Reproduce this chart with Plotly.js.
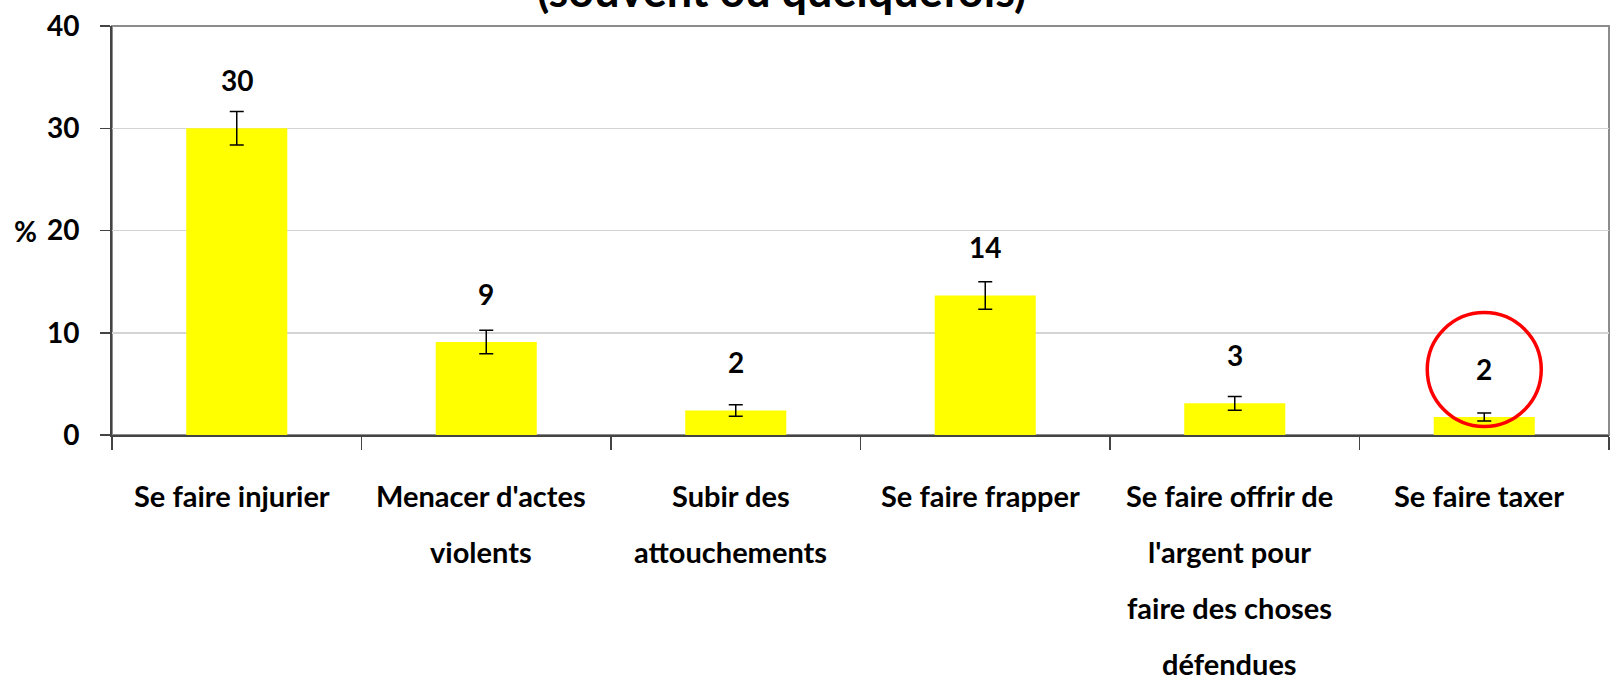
<!DOCTYPE html>
<html>
<head>
<meta charset="utf-8">
<script src="https://cdn.plot.ly/plotly-3.0.1.min.js"></script>
<style>html,body{margin:0;padding:0;background:#fff;}</style>
</head>
<body>
<div id="chart" style="width:1615px;height:682px;"></div>
<script>
// ---- data ----
const categories = [
  "Se faire injurier",
  "Menacer d'actes violents",
  "Subir des attouchements",
  "Se faire frapper",
  "Se faire offrir de l'argent pour faire des choses défendues",
  "Se faire taxer"
];
const categoryLines = [
  ["Se faire injurier"],
  ["Menacer d'actes", "violents"],
  ["Subir des", "attouchements"],
  ["Se faire frapper"],
  ["Se faire offrir de", "l'argent pour", "faire des choses", "défendues"],
  ["Se faire taxer"]
];
const values = [30, 9.1, 2.4, 13.65, 3.1, 1.76];
const errors = [1.65, 1.15, 0.57, 1.35, 0.67, 0.4];
const valueLabels = ["30", "9", "2", "14", "3", "2"];
const yTickVals = [0, 10, 20, 30, 40];
const yTickText = ["0", "10", "20", "30", "40"];
const titleText = "(souvent ou quelquefois)";
const highlightIndex = 5;

// ---- chart ----
const FONT = "Lato, 'Open Sans', sans-serif";
const fsNum = 28;
const fsCat = 29;

const trace = {
  type: "bar",
  x: categories,
  y: values,
  marker: {color: "#ffff00", line: {width: 0}},
  error_y: {type: "data", array: errors, visible: true, color: "#000", thickness: 1.5, width: 7},
  hoverinfo: "skip"
};

const annotations = [];
values.forEach((v, i) => {
  annotations.push({
    x: categories[i], y: v, xref: "x", yref: "y",
    text: "<b>" + valueLabels[i] + "</b>", showarrow: false,
    yanchor: "middle", yshift: 48,
    font: {family: FONT, size: fsNum, color: "#000"}
  });
});
categoryLines.forEach((lines, i) => {
  lines.forEach((ln, j) => {
    annotations.push({
      x: categories[i], y: 0, xref: "x", yref: "paper",
      text: "<b>" + ln + "</b>", showarrow: false,
      yanchor: "middle", yshift: -(60 + j * 56), xshift: -5,
      font: {family: FONT, size: fsCat, color: "#000"}
    });
  });
});
annotations.push({
  x: 0, xref: "paper", xshift: -87, y: 20, yref: "y",
  text: "<b>%</b>", showarrow: false, xanchor: "center", yanchor: "middle",
  font: {family: FONT, size: fsNum, color: "#000"}
});

const layout = {
  width: 1615, height: 682,
  margin: {l: 112, r: 6, t: 26, b: 247},
  paper_bgcolor: "#fff", plot_bgcolor: "#fff",
  showlegend: false,
  bargap: 0.595,
  title: {
    text: "<b>" + titleText + "</b>",
    font: {family: FONT, size: 45, color: "#000"},
    x: 0.484, xanchor: "center", xref: "container",
    y: 1 - 7 / 682, yanchor: "bottom", yref: "container"
  },
  xaxis: {
    type: "category",
    tickson: "boundaries",
    ticks: "outside", ticklen: 13, tickwidth: 1.2, tickcolor: "#444",
    showticklabels: false,
    showline: true, linecolor: "#444", linewidth: 2,
    showgrid: false, zeroline: false, fixedrange: true
  },
  yaxis: {
    range: [0, 40],
    tickvals: yTickVals, ticktext: yTickText.map(t => "<b>" + t + "</b>"),
    ticks: "outside", ticklen: 10, tickwidth: 1.5, tickcolor: "#444",
    ticklabelstandoff: 15,
    tickfont: {family: FONT, size: fsNum, color: "#000"},
    showline: true, linecolor: "#444", linewidth: 2,
    showgrid: true, gridcolor: "#d4d4d4", gridwidth: 1.5,
    zeroline: false, fixedrange: true
  },
  shapes: [
    {type: "rect", xref: "paper", yref: "paper", x0: 0, x1: 1, y0: 0, y1: 1,
     line: {color: "#8c8c8c", width: 2}, layer: "below"},
    {type: "circle", xref: "x", yref: "y",
     xsizemode: "pixel", ysizemode: "pixel",
     xanchor: highlightIndex, yanchor: values[highlightIndex],
     x0: -57, x1: 57, y0: -9.5, y1: 104.5,
     line: {color: "#ff0000", width: 3.5}, layer: "above"}
  ],
  annotations: annotations,
  font: {family: FONT, color: "#000"}
};

Plotly.newPlot("chart", [trace], layout, {displayModeBar: false, staticPlot: true});
</script>
</body>
</html>
